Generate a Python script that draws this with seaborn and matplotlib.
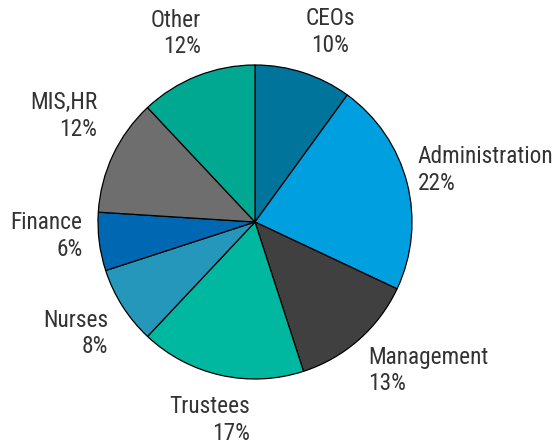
import matplotlib
matplotlib.use("Agg")
import matplotlib.pyplot as plt
import seaborn as sns

# Data
labels = ["CEOs", "Administration", "Management", "Trustees", "Nurses", "Finance", "MIS,HR", "Other"]
shares = [10, 22, 13, 17, 8, 6, 12, 12]
colors = ["#00749a", "#009fe0", "#404040", "#00b89f", "#2497bb", "#0068b2", "#6e6e6e", "#00a892"]

sns.set_theme(style="white")
plt.rcParams["font.family"] = ["Roboto Condensed", "DejaVu Sans"]

fig = plt.figure(figsize=(5.53, 4.46), dpi=100)
ax = fig.add_axes([0, 0, 1, 1])

wedges, _ = ax.pie(shares, colors=colors, startangle=90, counterclock=False,
                   wedgeprops=dict(edgecolor="black", linewidth=0.9))

# label anchors (pie radius = 1), chosen to sit like the reference
label_pos = {
    "CEOs": (0.478, 1.21, "center"),
    "Administration": (1.038, 0.33, "left"),
    "Management": (0.72, -0.945, "left"),
    "Trustees": (-0.03, -1.262, "right"),
    "Nurses": (-0.935, -0.71, "right"),
    "Finance": (-1.10, -0.09, "right"),
    "MIS,HR": (-1.005, 0.675, "right"),
    "Other": (-0.345, 1.20, "right"),
}
for lab, val in zip(labels, shares):
    x, y, ha = label_pos[lab]
    ax.text(x, y, f"{lab}\n{val}%", ha=ha, va="center", multialignment=ha,
            fontsize=16.8, color="#333333", linespacing=1.2)

ax.set_xlim(-255 / 157, 298 / 157)
ax.set_ylim(-224 / 157, 222 / 157)
ax.set_aspect("equal")
ax.axis("off")

fig.savefig("out.png", dpi=100)
